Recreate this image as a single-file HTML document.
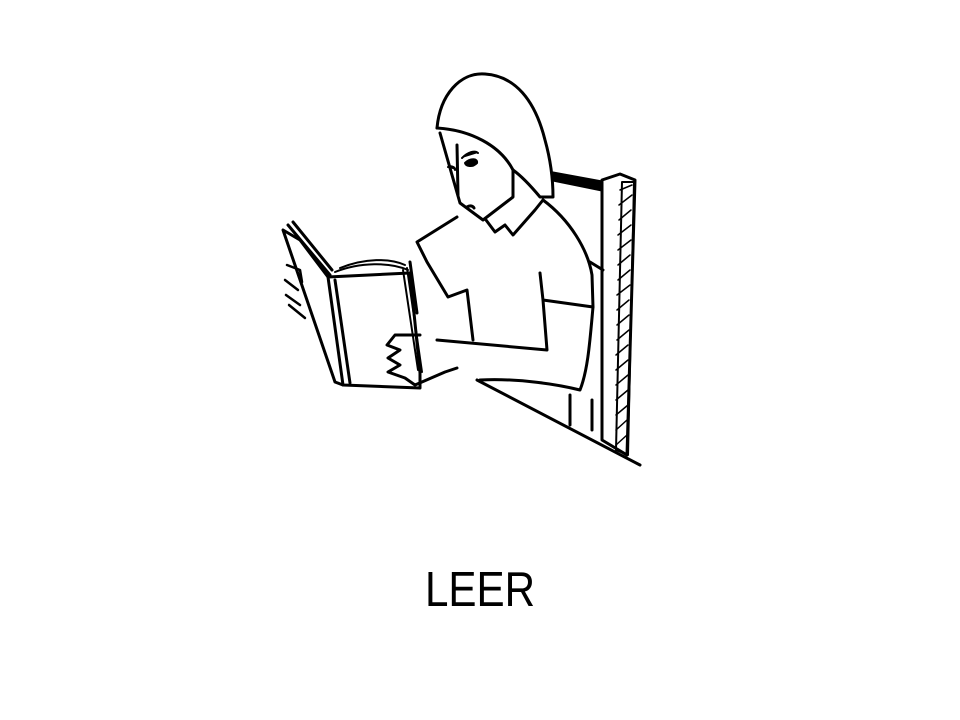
<!DOCTYPE html>
<html><head><meta charset="utf-8"><style>
html,body{margin:0;padding:0;background:#fff;width:960px;height:720px;overflow:hidden}
svg{position:absolute;left:0;top:0}
#lbl{position:absolute;left:0;width:960px;top:562px;text-align:center;font-family:"Liberation Sans",sans-serif;font-size:49px;color:#000;transform:scaleX(0.86)}
</style></head><body>
<svg width="960" height="720" fill="none" stroke="#000" stroke-width="3" stroke-linejoin="round" stroke-linecap="round">
 <g>
  <path d="M553,173 L602,182 L602,190 L553,180 Z" fill="#000"/>
  <path d="M602,180 L602,440 L627,455 L635,180 L620,174 Z"/>
  <path d="M622,182 L634,182 L628,455 L616,450 Z" stroke-width="2"/>
  <path d="M620,190 L632,185 M619,205 L632,195 M619,220 L631,210 M618,235 L631,225 M618,250 L631,240 M618,265 L630,255 M618,280 L630,270 M617,295 L630,285 M617,310 L629,300 M617,325 L629,315 M617,340 L629,330 M616,355 L628,345 M616,370 L628,360 M616,385 L628,375 M616,400 L628,390 M616,415 L628,405 M616,430 L627,420 M616,445 L627,435" stroke-width="1.5"/>
  <path d="M477,380 L640,465"/>
  <path d="M590,262 L603,270 M592,400 L592,430 M570,395 L570,425"/>
 </g>
 <g>
  <path d="M437,128 C440,95 460,72 485,74 C515,76 535,100 545,140 C552,165 553,185 553,197 L540,197 C530,185 520,175 513,170"/>
  <path d="M437,128 C470,130 500,145 513,170"/>
  <path d="M440,133 L460,203 L483,220 L513,197 L513,170"/>
  <path d="M448,167 C452,165 456,168 455,170 M462,158 C468,152 475,150 478,153 M465,163 C470,158 478,158 477,163 C472,168 466,166 465,163 Z" fill="#000" stroke-width="2"/>
  <path d="M457,145 L458,195 M467,207 C470,205 473,206 474,208"/>
  <path d="M486,220 L495,232 L505,225 L513,235 L535,210 L543,200"/>
  <path d="M543,200 C570,220 588,250 592,275 L593,307 L543,300 L540,273"/>
  <path d="M593,307 C590,340 588,370 580,390 C560,385 520,378 480,380"/>
  <path d="M437,340 L547,350 L543,300"/>
  <path d="M457,217 L417,242 L427,262 L448,297 L467,290 L473,340"/>
  <path d="M410,262 L417,313"/>
 </g>
 <g>
  <path d="M283,230 L335,382 L343,385 L420,388 L420,373 L410,273 L328,277 L300,240 Z" fill="#fff"/>
  <path d="M328,277 L343,385 M335,280 L350,383"/>
  <path d="M288,225 L330,275 M293,222 L332,270"/>
  <path d="M335,272 C360,262 390,262 408,270 M340,268 C365,258 390,258 405,265" stroke-width="2"/>
  <path d="M403,270 L418,370 M407,268 L422,372" stroke-width="2"/>
  <path d="M287,265 L300,270 L302,282 M285,280 L298,290 M286,295 L300,305 M289,305 L305,318" stroke-width="2.5"/>
  <path d="M420,335 L395,335 L387,345 L400,350 L388,358 L400,365 L388,372 L405,378 L415,385 L445,372 L457,368"/>
 </g>
</svg>
<div id="lbl">LEER</div>
</body></html>
